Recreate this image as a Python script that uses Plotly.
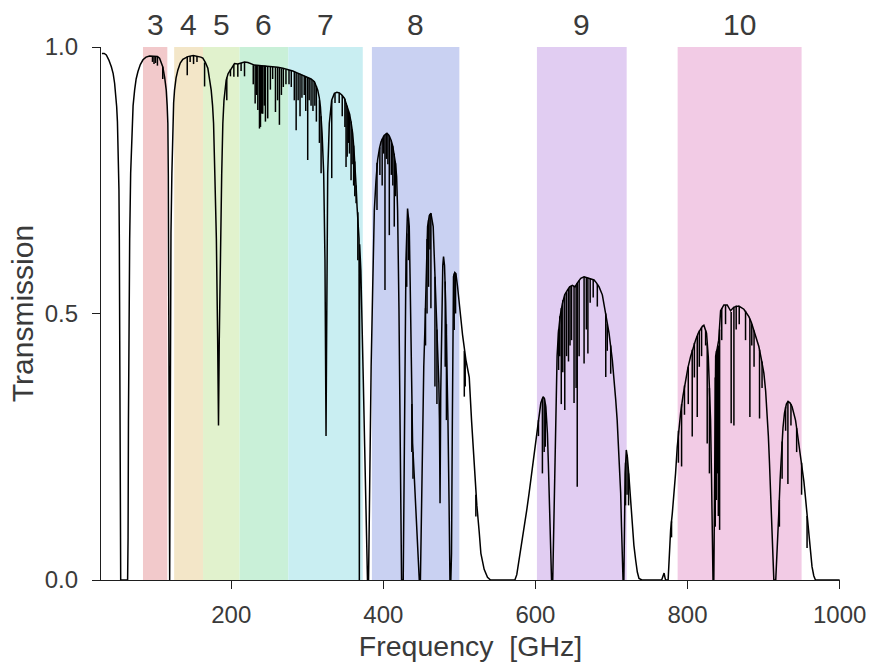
import plotly.graph_objects as go

# ---------------- ALMA bands ----------------
band_names = ["3", "4", "5", "6", "7", "8", "9", "10"]
band_low_ghz = [84, 125, 163, 211, 275, 385, 602, 787]
band_high_ghz = [116, 163, 211, 275, 373, 500, 720, 950]
band_colors = ["#f2c9cb", "#f3e6c8", "#e1f2cd", "#c9f0d8", "#c9eef2",
               "#c9d1f2", "#e1cdf2", "#f2cbe5"]

# ---------------- atmospheric transmission (continuum) -------------
# (frequency GHz, transmission) per atmospheric window
win_below_60 = [(30, 0.988), (33, 0.988), (35.8, 0.985), (39, 0.976), (42.4, 0.963),
                (44.8, 0.95), (46.7, 0.932), (48.2, 0.91), (49.4, 0.888), (50.4, 0.86),
                (51.1, 0.826), (51.8, 0.78), (52.4, 0.732), (52.9, 0.638), (53.3, 0.45),
                (53.7, 0.22), (54.2, 0.05), (54.7, 0.0)]
win_band3 = [(63.8, 0.0), (64.4, 0.08), (64.9, 0.3), (65.6, 0.5), (66.5, 0.638),
             (67.8, 0.763), (69.5, 0.857), (71.0, 0.89), (73.0, 0.919), (75.0, 0.94),
             (77.4, 0.954), (80.5, 0.967), (84.0, 0.976), (88.0, 0.981), (92.7, 0.983),
             (99.3, 0.983), (103.0, 0.982), (105.8, 0.979), (108.0, 0.972), (110.0, 0.963),
             (112.5, 0.943), (114.6, 0.919), (115.8, 0.89), (116.7, 0.857), (117.3, 0.76),
             (117.8, 0.5), (118.2, 0.15), (118.5, 0.0)]
win_band4_7 = [(119.1, 0.0), (119.5, 0.15), (120.0, 0.45), (120.8, 0.65), (122.0, 0.763),
               (123.3, 0.857), (124.3, 0.895), (125.5, 0.919), (127.5, 0.942), (129.9, 0.957),
               (133.0, 0.97), (136.4, 0.977), (143.0, 0.982), (150.0, 0.984), (156.2, 0.983),
               (160.0, 0.981), (162.7, 0.979), (166.0, 0.971), (169.3, 0.96), (171.5, 0.943),
               (173.7, 0.919), (175.5, 0.89), (176.8, 0.857), (178.5, 0.76), (180.5, 0.64),
               (182.2, 0.45), (183.3, 0.29), (184.3, 0.45), (186.0, 0.64), (187.5, 0.76),
               (189.0, 0.857), (190.5, 0.9), (193.4, 0.938), (196.0, 0.95), (200.0, 0.959),
               (204.3, 0.969), (208.7, 0.968), (212.0, 0.97), (217.5, 0.972), (222.0, 0.971),
               (230.6, 0.966), (240.0, 0.965), (248.0, 0.964), (255.0, 0.963), (261.2, 0.962),
               (268.0, 0.96), (274.3, 0.958), (281.0, 0.955), (287.5, 0.951), (294.0, 0.947),
               (300.6, 0.943), (305.0, 0.94), (309.4, 0.935), (311.8, 0.928), (313.8, 0.919),
               (315.8, 0.905), (317.3, 0.888), (319.5, 0.838), (321.6, 0.763), (323.3, 0.6),
               (324.2, 0.42), (324.7, 0.27), (325.3, 0.42), (326.0, 0.6), (326.9, 0.763),
               (329.0, 0.857), (330.5, 0.885), (332.1, 0.90), (335.7, 0.913), (339.0, 0.915),
               (342.2, 0.914), (345.5, 0.91), (348.8, 0.904), (352.0, 0.892), (355.3, 0.876),
               (357.5, 0.86), (359.7, 0.838), (361.3, 0.81), (362.8, 0.78), (364.2, 0.74),
               (365.5, 0.70), (367.2, 0.67), (368.1, 0.64), (368.5, 0.0), (368.9, 0.63),
               (370.5, 0.58), (372.0, 0.5), (373.7, 0.375), (375.5, 0.25), (377.5, 0.1),
               (379.2, 0.0)]
win_band8 = [(380.6, 0.0), (382.2, 0.2), (384.0, 0.4), (386.0, 0.545), (388.2, 0.694),
             (390.4, 0.75), (392.5, 0.788), (395.0, 0.81), (397.0, 0.822), (401.0, 0.834),
             (404.8, 0.838), (407.5, 0.834), (410.0, 0.826), (412.3, 0.815), (414.4, 0.80),
             (416.2, 0.78), (417.5, 0.757), (418.8, 0.694), (420.6, 0.507), (422.3, 0.257),
             (423.3, 0.1), (424.0, 0.0),
             (426.2, 0.0), (427.2, 0.2), (428.5, 0.444), (429.8, 0.60), (431.9, 0.697),
             (434.1, 0.663), (435.3, 0.56), (436.4, 0.444), (437.4, 0.35), (438.5, 0.257),
             (440.5, 0.2), (442.5, 0.14), (445.0, 0.069), (446.5, 0.02), (447.3, 0.0),
             (448.8, 0.0), (449.8, 0.1), (451.6, 0.319), (453.2, 0.4), (454.8, 0.475),
             (456.5, 0.58), (458.2, 0.663), (460.5, 0.684), (462.6, 0.688), (465.6, 0.663),
             (467.9, 0.569), (469.5, 0.5), (471.3, 0.444), (473.0, 0.37), (473.8, 0.30),
             (474.6, 0.144), (475.5, 0.35), (477.0, 0.52), (478.2, 0.59), (479.2, 0.607),
             (480.5, 0.59), (482.0, 0.52), (483.5, 0.42), (485.0, 0.3), (486.5, 0.14),
             (487.6, 0.0),
             (488.8, 0.0), (489.7, 0.05), (490.8, 0.3), (492.3, 0.569), (494.0, 0.577),
             (495.4, 0.575), (497.5, 0.552), (499.8, 0.519), (502.0, 0.49), (504.2, 0.46),
             (508.6, 0.413), (513.0, 0.38), (516.0, 0.3), (519.5, 0.21), (523.0, 0.14),
             (526.1, 0.09), (528.3, 0.05), (532.6, 0.02), (537.0, 0.005), (541.0, 0.0)]
win_band9 = [(573.0, 0.0), (575.5, 0.01), (578.6, 0.0375), (582.0, 0.07), (585.2, 0.1),
             (588.5, 0.13), (591.7, 0.163), (595.0, 0.2), (598.3, 0.244), (602.6, 0.288),
             (605.0, 0.315), (607.1, 0.332), (610.1, 0.344), (612.0, 0.34), (613.7, 0.325),
             (615.0, 0.30), (615.8, 0.275), (617.0, 0.22), (618.0, 0.163), (619.2, 0.09),
             (620.2, 0.0375), (621.2, 0.0),
             (622.8, 0.0), (623.6, 0.06), (624.6, 0.163), (625.7, 0.27), (626.8, 0.35),
             (628.5, 0.42), (630.2, 0.463), (632.5, 0.495), (635.5, 0.519), (638.5, 0.535),
             (642.1, 0.544), (645.0, 0.55), (648.6, 0.553), (652.0, 0.55), (655.0, 0.557),
             (659.6, 0.566), (664.0, 0.569), (670.5, 0.566), (677.1, 0.563), (680.0, 0.558),
             (683.7, 0.55), (688.0, 0.535), (692.5, 0.50), (696.8, 0.463), (701.1, 0.413),
             (703.5, 0.38), (705.6, 0.338), (707.5, 0.3), (709.0, 0.256), (710.5, 0.21),
             (712.1, 0.163), (713.2, 0.1), (714.2, 0.0375), (715.2, 0.0),
             (716.3, 0.0), (717.0, 0.1), (718.0, 0.2), (719.5, 0.244), (721.0, 0.23),
             (723.0, 0.194), (725.0, 0.15), (727.4, 0.1), (729.5, 0.065), (731.8, 0.0375),
             (734.0, 0.015), (736.2, 0.003), (740.0, 0.0), (766.0, 0.0), (768.0, 0.008),
             (769.2, 0.013), (770.3, 0.005), (771.2, 0.0)]
win_band10 = [(774.5, 0.0), (775.5, 0.03), (776.5, 0.07), (777.8, 0.094), (780.0, 0.125),
              (782.1, 0.156), (784.3, 0.2), (786.5, 0.25), (788.7, 0.285), (790.9, 0.313),
              (794.0, 0.345), (797.5, 0.375), (800.5, 0.398), (804.0, 0.419), (807.0, 0.435),
              (810.6, 0.45), (814.0, 0.463), (817.2, 0.472), (819.5, 0.476), (821.5, 0.478),
              (823.5, 0.47), (825.0, 0.463), (827.3, 0.419), (828.5, 0.38), (830.3, 0.3),
              (831.6, 0.19), (832.6, 0.106), (833.5, 0.0),
              (834.6, 0.0), (835.5, 0.2), (836.3, 0.35), (837.0, 0.42), (839.0, 0.434),
              (841.0, 0.45), (843.5, 0.505), (847.8, 0.516), (852.2, 0.516), (856.6, 0.505),
              (861.0, 0.512), (867.5, 0.514), (874.1, 0.508), (880.7, 0.494), (884.0, 0.483),
              (887.2, 0.469), (890.5, 0.455), (893.8, 0.438), (897.0, 0.415), (900.4, 0.388),
              (902.7, 0.355), (904.7, 0.313), (906.3, 0.27), (907.8, 0.219), (909.2, 0.17),
              (910.5, 0.125), (911.6, 0.075), (912.6, 0.031), (913.5, 0.0),
              (916.0, 0.0), (917.5, 0.04), (918.8, 0.08), (920.0, 0.125), (921.8, 0.19),
              (923.6, 0.25), (925.5, 0.285), (927.5, 0.313), (930.0, 0.33), (932.2, 0.335),
              (935.0, 0.332), (937.5, 0.325), (940.0, 0.312), (942.0, 0.30), (944.0, 0.28),
              (946.3, 0.256), (948.5, 0.235), (950.7, 0.213), (953.0, 0.185), (955.0, 0.156),
              (957.2, 0.12), (959.4, 0.0875), (961.5, 0.055), (963.7, 0.025), (966.0, 0.008),
              (968.2, 0.0), (1000.0, 0.0)]

# ---------------- narrow absorption lines: (freq GHz, continuum level, line minimum) -------
lines_low = [(96.5, 0.983, 0.972), (98.5, 0.983, 0.968), (100.5, 0.983, 0.970),
             (103.0, 0.982, 0.965), (110.0, 0.963, 0.940),
             (142.2, 0.982, 0.947), (146.0, 0.983, 0.972), (150.5, 0.984, 0.968),
             (155.0, 0.983, 0.972), (165.0, 0.971, 0.926),
             (194.2, 0.943, 0.900), (199.0, 0.958, 0.945), (203.5, 0.967, 0.944),
             (208.7, 0.968, 0.944)]
lines_band6 = [(213.0, 0.970, 0.955), (217.5, 0.972, 0.945), (229.0, 0.966, 0.930),
               (231.5, 0.966, 0.894), (233.3, 0.966, 0.910), (235.0, 0.966, 0.882),
               (237.2, 0.965, 0.847), (238.5, 0.965, 0.850), (240.0, 0.965, 0.875),
               (241.5, 0.965, 0.875), (243.5, 0.965, 0.890), (245.0, 0.965, 0.860),
               (248.0, 0.964, 0.866), (251.5, 0.964, 0.920), (254.5, 0.963, 0.940),
               (258.2, 0.962, 0.878), (261.0, 0.962, 0.900), (263.4, 0.962, 0.854),
               (266.0, 0.960, 0.910), (268.5, 0.960, 0.925), (272.0, 0.958, 0.930)]
lines_band7 = [(276.0, 0.957, 0.930), (279.0, 0.956, 0.925), (283.0, 0.953, 0.900),
               (285.4, 0.952, 0.844), (288.0, 0.951, 0.900), (290.5, 0.950, 0.870),
               (293.0, 0.948, 0.905), (296.0, 0.946, 0.910), (298.0, 0.945, 0.880),
               (300.6, 0.943, 0.788), (302.5, 0.942, 0.900), (305.0, 0.940, 0.890),
               (307.5, 0.937, 0.880), (310.0, 0.933, 0.890), (312.0, 0.927, 0.860),
               (316.0, 0.900, 0.820), (318.2, 0.870, 0.763),
               (332.2, 0.900, 0.754), (336.5, 0.913, 0.895), (342.0, 0.914, 0.895),
               (346.0, 0.910, 0.870), (349.5, 0.903, 0.850), (351.0, 0.895, 0.775),
               (352.5, 0.890, 0.794), (354.0, 0.880, 0.820), (355.5, 0.875, 0.800),
               (357.6, 0.860, 0.750), (359.0, 0.845, 0.780), (361.0, 0.815, 0.740),
               (362.5, 0.785, 0.720), (364.2, 0.740, 0.707), (366.5, 0.690, 0.600)]
lines_band8 = [(391.7, 0.783, 0.694), (395.5, 0.812, 0.760), (398.5, 0.828, 0.740),
               (400.5, 0.833, 0.800), (402.2, 0.835, 0.544), (404.0, 0.838, 0.790),
               (406.0, 0.837, 0.780), (407.9, 0.833, 0.647), (410.5, 0.825, 0.760),
               (412.5, 0.814, 0.740), (414.4, 0.800, 0.663), (416.0, 0.782, 0.720),
               (430.8, 0.650, 0.550), (433.0, 0.680, 0.600), (437.5, 0.330, 0.240),
               (439.0, 0.240, 0.190), (455.5, 0.510, 0.440), (457.5, 0.640, 0.500),
               (459.5, 0.675, 0.550), (461.3, 0.686, 0.620), (462.6, 0.688, 0.510),
               (467.9, 0.569, 0.363), (470.5, 0.470, 0.330), (481.4, 0.560, 0.400),
               (483.0, 0.480, 0.300), (493.2, 0.575, 0.469), (495.0, 0.575, 0.500),
               (506.5, 0.430, 0.344), (507.7, 0.420, 0.363), (521.7, 0.160, 0.119)]
lines_band9 = [(604.0, 0.300, 0.270), (609.2, 0.340, 0.200), (611.5, 0.342, 0.240),
               (613.0, 0.330, 0.250), (630.5, 0.470, 0.394), (632.0, 0.495, 0.420),
               (634.0, 0.510, 0.330), (636.0, 0.525, 0.390), (638.6, 0.535, 0.319),
               (641.0, 0.540, 0.420), (643.5, 0.546, 0.410), (645.5, 0.550, 0.440),
               (647.5, 0.552, 0.450), (650.8, 0.552, 0.332), (653.5, 0.553, 0.360),
               (655.0, 0.557, 0.175), (657.5, 0.562, 0.420), (664.0, 0.569, 0.406),
               (667.0, 0.568, 0.470), (669.0, 0.567, 0.425), (672.0, 0.566, 0.520),
               (676.0, 0.563, 0.530), (681.4, 0.555, 0.513), (692.5, 0.500, 0.381),
               (694.5, 0.480, 0.430), (699.0, 0.440, 0.387), (718.5, 0.220, 0.140),
               (720.5, 0.235, 0.160), (722.5, 0.200, 0.140)]
lines_band10 = [(779.0, 0.110, 0.080), (788.0, 0.280, 0.220), (792.2, 0.330, 0.213),
                (796.0, 0.365, 0.310), (801.0, 0.400, 0.330), (806.2, 0.432, 0.269),
                (809.0, 0.445, 0.380), (812.8, 0.458, 0.306), (815.5, 0.468, 0.400),
                (818.5, 0.474, 0.420), (823.8, 0.468, 0.440), (825.9, 0.445, 0.256),
                (828.8, 0.360, 0.200), (836.5, 0.380, 0.100), (838.0, 0.430, 0.150),
                (839.5, 0.435, 0.200), (840.5, 0.440, 0.120), (842.2, 0.470, 0.094),
                (845.0, 0.510, 0.450), (850.0, 0.516, 0.480), (857.4, 0.503, 0.294),
                (861.0, 0.512, 0.290), (864.0, 0.515, 0.470), (868.0, 0.514, 0.480),
                (876.3, 0.505, 0.450), (882.0, 0.490, 0.306), (884.5, 0.480, 0.440),
                (887.5, 0.468, 0.400), (894.7, 0.432, 0.303), (898.0, 0.410, 0.360),
                (920.8, 0.150, 0.100), (924.4, 0.260, 0.190), (929.0, 0.325, 0.280),
                (932.0, 0.335, 0.180), (936.0, 0.330, 0.290), (943.5, 0.285, 0.240),
                (950.0, 0.220, 0.160), (957.2, 0.120, 0.060)]

x_ticks = [200, 400, 600, 800, 1000]
y_ticks = [0.0, 0.5, 1.0]
y_tick_labels = ["0.0", "0.5", "1.0"]

# ---------------- build figure ----------------
curve = win_below_60 + win_band3 + win_band4_7 + win_band8 + win_band9 + win_band10
curve_f = [p[0] for p in curve]
curve_t = [p[1] for p in curve]

all_lines = lines_low + lines_band6 + lines_band7 + lines_band8 + lines_band9 + lines_band10
line_x, line_y = [], []
for f, top, bottom in all_lines:
    line_x += [f, f, None]
    line_y += [top, bottom, None]

FONT = "Liberation Sans, Arial, Helvetica, sans-serif"
TXT = "#3a3a3a"
AX = "#1e1e1e"

fig = go.Figure()

for name, lo, hi, col in zip(band_names, band_low_ghz, band_high_ghz, band_colors):
    fig.add_shape(type="rect", xref="x", yref="y", x0=lo, x1=hi, y0=0, y1=1,
                  fillcolor=col, line_width=0, layer="below")
    fig.add_annotation(x=(lo + hi) / 2, y=1.0, xref="x", yref="y", text=name,
                       showarrow=False, yanchor="bottom", yshift=4,
                       font=dict(family=FONT, size=30, color=TXT))

fig.add_trace(go.Scatter(x=curve_f, y=curve_t, mode="lines",
                         line=dict(color="black", width=1.5), hoverinfo="skip",
                         showlegend=False))
fig.add_trace(go.Scatter(x=line_x, y=line_y, mode="lines",
                         line=dict(color="black", width=1.5), hoverinfo="skip",
                         showlegend=False, connectgaps=False))

fig.update_layout(
    width=872, height=667,
    margin=dict(l=101, r=32, t=47, b=87),
    paper_bgcolor="white", plot_bgcolor="white",
    showlegend=False,
    font=dict(family=FONT, color=TXT),
    xaxis=dict(range=[28.8, 1000.5], tickvals=x_ticks, ticks="outside", ticklen=8,
               tickwidth=1.2, tickcolor=AX, showline=True, linecolor=AX, linewidth=1.2,
               showgrid=False, zeroline=False, ticklabelstandoff=5, automargin=False,
               tickfont=dict(family=FONT, size=24, color=TXT),
               title=dict(text="Frequency\u00a0 [GHz]", standoff=9,
                          font=dict(family=FONT, size=28.5, color=TXT))),
    yaxis=dict(range=[0, 1], tickvals=y_ticks, ticktext=y_tick_labels, ticks="outside",
               ticklen=8, tickwidth=1.2, tickcolor=AX, showline=True, linecolor=AX,
               linewidth=1.2, showgrid=False, zeroline=False, ticklabelstandoff=9,
               automargin=False,
               tickfont=dict(family=FONT, size=24, color=TXT),
               title=dict(text="Transmission", standoff=2,
                          font=dict(family=FONT, size=30, color=TXT))),
)

fig.write_html("out.html")
